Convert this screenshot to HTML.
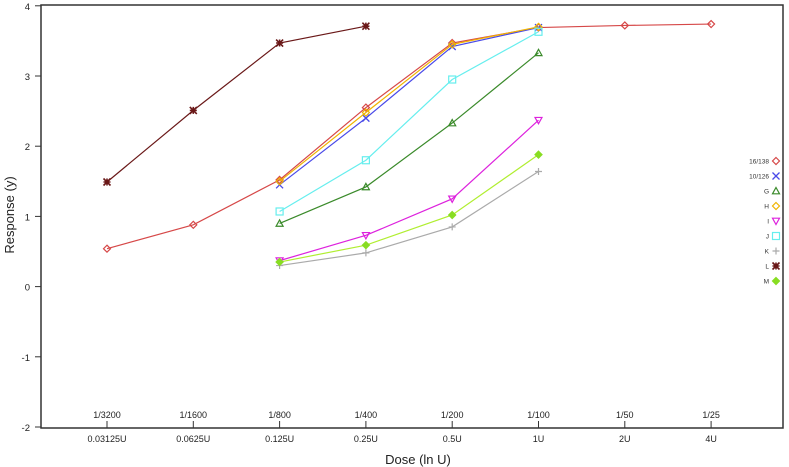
<!DOCTYPE html>
<html><head><meta charset="utf-8"><style>
body{margin:0;background:#fff;}
svg{display:block;font-family:"Liberation Sans",sans-serif;}
</style></head><body>
<svg id="chart" width="789" height="467">
<rect x="41" y="5" width="742" height="423" fill="none" stroke="#333" stroke-width="1.5"/>
<text x="418" y="464" text-anchor="middle" font-size="13" fill="#222">Dose (ln U)</text>
<text transform="translate(14,215) rotate(-90)" text-anchor="middle" font-size="13" fill="#222">Response (y)</text>
<g id="axes"></g><g id="series"></g><g id="legend"></g>
</svg>
<script>
const doseLabels=["0.03125U","0.0625U","0.125U","0.25U","0.5U","1U","2U","4U"];
const ratioLabels=["1/3200","1/1600","1/800","1/400","1/200","1/100","1/50","1/25"];
const yTicks=[-2,-1,0,1,2,3,4];
const seriesNames=["16/138","10/126","G","H","I","J","K","L","M"];
const s16_138=[0.54,0.88,1.52,2.55,3.47,3.69,3.72,3.74];
const s10_126=[null,null,1.45,2.40,3.42,3.69,null,null];
const sG=[null,null,0.90,1.42,2.33,3.33,null,null];
const sH=[null,null,1.50,2.48,3.45,3.70,null,null];
const sI=[null,null,0.37,0.73,1.25,2.37,null,null];
const sJ=[null,null,1.07,1.80,2.95,3.63,null,null];
const sK=[null,null,0.30,0.48,0.85,1.64,null,null];
const sL=[1.49,2.51,3.47,3.71,null,null,null,null];
const sM=[null,null,0.35,0.59,1.02,1.88,null,null];
const seriesData=[s16_138,s10_126,sG,sH,sI,sJ,sK,sL,sM];
const colors=["#d64848","#4a4ae8","#3a8a2a","#f0b400","#dd22dd","#66eeee","#aaaaaa","#6a1818","#b0ee30"];
const markerColors=["#d64848","#4a4ae8","#3a8a2a","#f0b400","#dd22dd","#66eeee","#aaaaaa","#6a1818","#88dd22"];
const shapes=["diamond","x","tri","diamond","tridown","square","plus","star","fdiamond"];
const NS="http://www.w3.org/2000/svg";
const xs=i=>107+86.3*i;
const ys=v=>286.6-70.2*v;
function mk(tag,attrs,parent){const e=document.createElementNS(NS,tag);for(const k in attrs)e.setAttribute(k,attrs[k]);parent.appendChild(e);return e;}
const axes=document.getElementById('axes');
yTicks.forEach(t=>{
  const l=mk('line',{x1:35,x2:41,y1:ys(t),y2:ys(t),stroke:'#333'},axes);
  
  
  const tx=mk('text',{x:30,y:ys(t)+4,'text-anchor':'end','font-size':9.5,fill:'#222'},axes);
  tx.textContent=t;
  
  
});
doseLabels.forEach((d,i)=>{
  const l=mk('line',{x1:xs(i),x2:xs(i),y1:421,y2:428,stroke:'#333'},axes);
  
  
  const t1=mk('text',{x:xs(i),y:418,'text-anchor':'middle','font-size':9,fill:'#222'},axes);
  t1.textContent=ratioLabels[i];
  
  
  const t2=mk('text',{x:xs(i),y:442,'text-anchor':'middle','font-size':9,fill:'#222'},axes);
  t2.textContent=d;
  
  
});
function marker(shape,x,y,c,p){
  const s=3.5;let e;
  if(shape==="diamond"||shape==="fdiamond")e=mk('polygon',{points:`${x},${y-s} ${x+s},${y} ${x},${y+s} ${x-s},${y}`,fill:shape==="fdiamond"?c:'none',stroke:c,'stroke-width':1.2},p);
  else if(shape==="x")e=mk('path',{d:`M${x-s},${y-s}L${x+s},${y+s}M${x-s},${y+s}L${x+s},${y-s}`,stroke:c,'stroke-width':1.3},p);
  else if(shape==="tri")e=mk('polygon',{points:`${x},${y-s} ${x+s},${y+s*0.8} ${x-s},${y+s*0.8}`,fill:'none',stroke:c,'stroke-width':1.2},p);
  else if(shape==="tridown")e=mk('polygon',{points:`${x},${y+s} ${x+s},${y-s*0.8} ${x-s},${y-s*0.8}`,fill:'none',stroke:c,'stroke-width':1.2},p);
  else if(shape==="square")e=mk('rect',{x:x-s,y:y-s,width:2*s,height:2*s,fill:'none',stroke:c,'stroke-width':1.2},p);
  else if(shape==="plus")e=mk('path',{d:`M${x-s},${y}L${x+s},${y}M${x},${y-s}L${x},${y+s}`,stroke:c,'stroke-width':1.2},p);
  else e=mk('path',{d:`M${x-s},${y-s}L${x+s},${y+s}M${x-s},${y+s}L${x+s},${y-s}M${x-s},${y}L${x+s},${y}M${x},${y-s}L${x},${y+s}`,stroke:c,'stroke-width':1.6},p);
  return e;
}
const sg=document.getElementById('series');
seriesData.forEach((arr,si)=>{
  const g=mk('g',{},sg);
  
  
  const pts=[];arr.forEach((v,i)=>{if(v!==null)pts.push([xs(i),ys(v)]);});
  const pl=mk('polyline',{points:pts.map(p=>p.join(',')).join(' '),fill:'none',stroke:colors[si],'stroke-width':1.2},g);
  
  
  pts.forEach(p=>{
    const m=marker(shapes[si],p[0],p[1],markerColors[si],g);
    
    
  });
});
const lg=document.getElementById('legend');
seriesNames.forEach((n,i)=>{
  const y=161+15*i;
  const t=mk('text',{x:769,y:y+2.5,'text-anchor':'end','font-size':6.5,fill:'#333'},lg);
  t.textContent=n;
  
  
  const m=marker(shapes[i],776,y,markerColors[i],lg);
  
  
});
</script>
</body></html>
